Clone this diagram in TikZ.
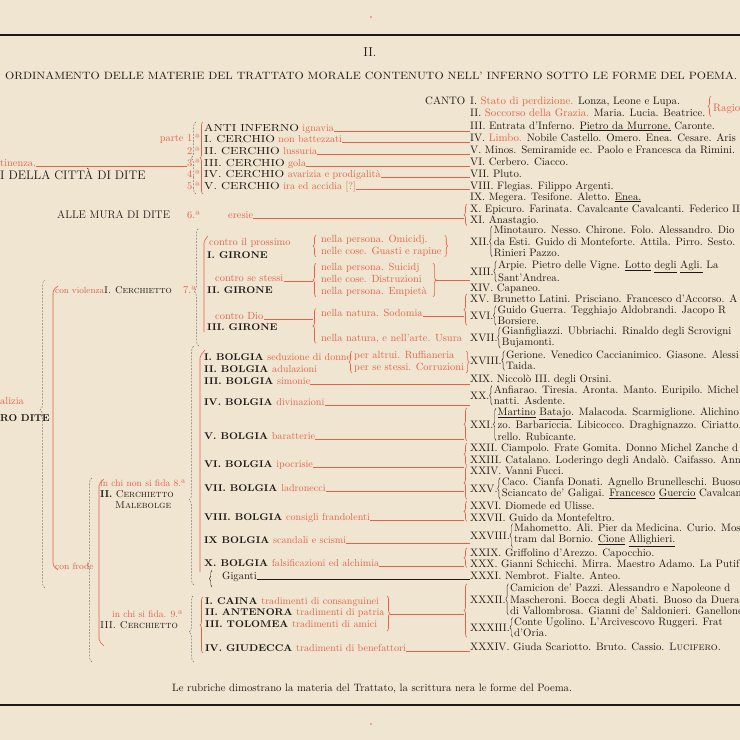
\documentclass[tikz,border=0pt]{standalone}
\usepackage{graphicx}
\usetikzlibrary{positioning,decorations.pathreplacing}

\definecolor{paper}{RGB}{240,229,208}
\definecolor{redink}{RGB}{226,98,72}
\definecolor{ink}{RGB}{30,25,24}
\newcommand{\rd}[1]{\textcolor{redink}{#1}}
\newcommand{\rs}[1]{\textcolor{redink}{\mdseries\fontsize{10.1}{11}\selectfont #1}}
\newcommand{\ccap}[1]{\scalebox{1.22}[1]{#1}}
\newcommand{\wcap}[1]{\scalebox{1.06}[1]{#1}}
\newcommand{\cfont}{\fontsize{10.8}{11.4}\selectfont}

\tikzset{
  every node/.style={inner sep=0pt, anchor=base west, text=ink},
  canto/.style={font=\cfont},
  ctext/.style={font=\cfont, align=left, anchor=west},
  circ/.style={font=\fontsize{10.2}{11}\selectfont},
  bolg/.style={font=\bfseries\fontsize{9.8}{11}\selectfont},
  rlab/.style={font=\fontsize{10.4}{11.8}\selectfont, text=redink},
  rline/.style={draw=redink, line width=0.6pt},
  kbrc/.style={draw=ink, line width=0.45pt, decorate, decoration={brace, amplitude=2.5pt}},
  rbrc/.style={draw=redink, line width=0.6pt, decorate, decoration={brace, amplitude=3pt}},
  dbrc/.style={draw=ink!60, line width=0.5pt, dash pattern=on 1.8pt off 1.4pt, decorate, decoration={brace, amplitude=5pt, aspect=#1}},
}

\begin{document}
\begin{tikzpicture}[x=1pt, y=-1pt]
\useasboundingbox (0,0) rectangle (740,740);
\clip (0,0) rectangle (740,740);
\fill[paper] (0,0) rectangle (740,740);

% rules and marks
\draw[ink, line width=1.4pt] (0,35) -- (740,35);
\draw[ink, line width=1.4pt] (0,705) -- (740,705);
\fill[redink] (371,17) circle[radius=0.9pt];
\fill[redink] (371,724) circle[radius=0.9pt];

% heading
\node[anchor=base, font=\fontsize{13}{14}\selectfont] (num) at (370,56) {II.};
\node (title) at (5,79) {\resizebox{732pt}{7.6pt}{ORDINAMENTO DELLE MATERIE DEL TRATTATO MORALE CONTENUTO NELL' INFERNO SOTTO LE FORME DEL POEMA.}};

% canti
\node[canto] (canto) at (425,104) {CANTO};
\node[canto] (c1) at (470,104) {I. \rd{Stato di perdizione.} Lonza, Leone e Lupa.};
\node[canto] (c2) at (470,116) {II. \rd{Soccorso della Grazia.} Maria. Lucia. Beatrice.};
\node[canto, text=redink] (rag) at (713,111) {Ragio};
\draw[rbrc] ([xshift=-2pt]rag.west |- c2.south) -- ([xshift=-2pt]rag.west |- c1.north);
\node[canto] (c3) at (470,129) {III. Entrata d'Inferno. \underline{Pietro da Murrone.} Caronte.};
\node[canto] (c4) at (470,141) {IV. \rd{Limbo.} Nobile Castello. Omero. Enea. Cesare. Aris};
\node[canto] (c5) at (470,153) {V. Minos. Semiramide ec. Paolo e Francesca da Rimini.};
\node[canto] (c6) at (470,165) {VI. Cerbero. Ciacco.};
\node[canto] (c7) at (470,177) {VII. Pluto.};
\node[canto] (c8) at (470,189) {VIII. Flegias. Filippo Argenti.};
\node[canto] (c9) at (470,200) {IX. Megera. Tesifone. Aletto. \underline{Enea.}};
\node[canto] (c10) at (470,212) {X. Epicuro. Farinata. Cavalcante Cavalcanti. Federico II.};
\node[canto] (c11) at (470,223) {XI. Anastagio.};
\node[canto] (c12) at (470,245) {XII.};
\node[ctext, right=4pt of c12] (t12) {Minotauro. Nesso. Chirone. Folo. Alessandro. Dio\\da Esti. Guido di Monteforte. Attila. Pirro. Sesto.\\Rinieri Pazzo.};
\node[canto] (c13) at (470,275) {XIII.};
\node[ctext, right=4pt of c13] (t13) {Arpie. Pietro delle Vigne. \underline{Lotto} \underline{degli} \underline{Agli.} La\\Sant'Andrea.};
\node[canto] (c14) at (470,291) {XIV. Capaneo.};
\node[canto] (c15) at (470,302) {XV. Brunetto Latini. Prisciano. Francesco d'Accorso. A};
\node[canto] (c16) at (470,319) {XVI.};
\node[ctext, right=4pt of c16] (t16) {Guido Guerra. Tegghiajo Aldobrandi. Jacopo R\\Borsiere.};
\node[canto] (c17) at (470,341) {XVII.};
\node[ctext, right=4pt of c17] (t17) {Gianfigliazzi. Ubbriachi. Rinaldo degli Scrovigni\\Bujamonti.};
\node[canto] (c18) at (470,364) {XVIII.};
\node[ctext, right=4pt of c18] (t18) {Gerione. Venedico Caccianimico. Giasone. Alessi\\Taida.};
\node[canto] (c19) at (470,382) {XIX. Niccolò III. degli Orsini.};
\node[canto] (c20) at (470,399) {XX.};
\node[ctext, right=4pt of c20] (t20) {Anfiarao. Tiresia. Aronta. Manto. Euripilo. Michel\\natti. Asdente.};
\node[canto] (c21) at (470,428) {XXI.};
\node[ctext, right=4pt of c21] (t21) {\underline{Martino} \underline{Batajo}. Malacoda. Scarmiglione. Alichino.\\zo. Barbariccia. Libicocco. Draghignazzo. Ciriatto.\\rello. Rubicante.};
\node[canto] (c22) at (470,451) {XXII. Ciampolo. Frate Gomita. Donno Michel Zanche d};
\node[canto] (c23) at (470,463) {XXIII. Catalano. Loderingo degli Andalò. Caifasso. Ann};
\node[canto] (c24) at (470,474) {XXIV. Vanni Fucci.};
\node[canto] (c25) at (470,492) {XXV.};
\node[ctext, right=4pt of c25] (t25) {Caco. Cianfa Donati. Agnello Brunelleschi. Buoso\\Sciancato de' Galigai. \underline{Francesco} \underline{Guercio} Cavalcan};
\node[canto] (c26) at (470,509) {XXVI. Diomede ed Ulisse.};
\node[canto] (c27) at (470,521) {XXVII. Guido da Montefeltro.};
\node[canto] (c28) at (470,539) {XXVIII.};
\node[ctext, right=4pt of c28] (t28) {Mahometto. Alì. Pier da Medicina. Curio. Mosc\\tram dal Bornio. \underline{Cione} \underline{Allighieri.}};
\node[canto] (c29) at (470,556) {XXIX. Griffolino d'Arezzo. Capocchio.};
\node[canto] (c30) at (470,567) {XXX. Gianni Schicchi. Mirra. Maestro Adamo. La Putif};
\node[canto] (c31) at (470,579) {XXXI. Nembrot. Fialte. Anteo.};
\node[canto] (c32) at (470,603) {XXXII.};
\node[ctext, right=4pt of c32] (t32) {Camicion de' Pazzi. Alessandro e Napoleone d\\Mascheroni. Bocca degli Abati. Buoso da Duera\\di Vallombrosa. Gianni de' Saldonieri. Ganellone};
\node[canto] (c33) at (470,631) {XXXIII.};
\node[ctext, right=4pt of c33] (t33) {Conte Ugolino. L'Arcivescovo Ruggeri. Frat\\d'Oria.};
\node[canto] (c34) at (470,650) {XXXIV. Giuda Scariotto. Bruto. Cassio. \textsc{Lucifero}.};

% inner braces of the canti
\foreach \t in {t12,t13,t16,t17,t18,t20,t21,t25,t28,t32,t33}
  \draw[kbrc] ([xshift=-1.5pt]\t.south west) -- ([xshift=-1.5pt]\t.north west);

% group braces before the canti
\coordinate (tx) at ([xshift=-6pt]c10.west);
\draw[rbrc] ([xshift=-3pt]c11.south west) -- ([xshift=-3pt]c10.north west);
\draw[rbrc] ([xshift=-3pt]c15.west |- t16.south) -- ([xshift=-3pt]c15.north west);
\draw[rbrc] ([xshift=-3pt]c21.west |- t21.south) -- ([xshift=-3pt]c21.west |- t21.north);
\draw[rbrc] ([xshift=-3pt]c23.south west) -- ([xshift=-3pt]c22.north west);
\draw[rbrc] ([xshift=-3pt]c25.west |- t25.south) -- ([xshift=-3pt]c24.north west);
\draw[rbrc] ([xshift=-3pt]c27.south west) -- ([xshift=-3pt]c26.north west);
\draw[rbrc] ([xshift=-3pt]c30.south west) -- ([xshift=-3pt]c29.north west);
\draw[rbrc] ([xshift=-3pt]c33.west |- t33.south) -- ([xshift=-3pt]c32.west |- t32.north);

% cerchi fuori della citta
\node[circ] (k0) at (204,131) {\ccap{ANTI INFERNO} \rs{ignavia}};
\node[circ] (k1) at (204,142) {\ccap{I. CERCHIO} \rs{non battezzati}};
\node[circ] (k2) at (204,154) {\ccap{II. CERCHIO} \rs{lussuria}};
\node[circ] (k3) at (204,166) {\ccap{III. CERCHIO} \rs{gola}};
\node[circ] (k4) at (204,177) {\ccap{IV. CERCHIO} \rs{avarizia e prodigalità}};
\node[circ] (k5) at (204,189) {\ccap{V. CERCHIO} \rs{ira ed accidia [?]}};
\node[rlab, anchor=base east] (n1) at (200,141) {parte 1.ª};
\node[rlab, anchor=base east] (n2) at (200,154) {2.ª};
\node[rlab, anchor=base east] (n3) at (200,166) {3.ª};
\node[rlab, anchor=base east] (n4) at (200,177) {4.ª};
\node[rlab, anchor=base east] (n5) at (200,189) {5.ª};
\draw[rbrc] (203,194) -- (203,122);
\draw[dbrc=0.5] (196,194) -- (196,122);
\node[rlab] (incont) at (0,166) {tinenza.};
\node[font=\fontsize{12.4}{12}\selectfont] (fuori) at (0,179) {I DELLA CITTÀ DI DITE};
\draw[rline] (incont.base east) -- (n3.base west);
\draw[rline] (k0.base east) -- (k0.base east -| c3.west);
\draw[rline] (k1.base east) -- (k1.base east -| c4.west);
\draw[rline] (k2.base east) -- (k2.base east -| c5.west);
\draw[rline] (k3.base east) -- (k3.base east -| c6.west);
\draw[rline] (k4.base east) -- (k4.base east -| c7.west);
\draw[rline] (k5.base east) -- (k5.base east -| c8.west);

% mura
\node[font=\fontsize{11}{12}\selectfont] (mura) at (57,218) {ALLE MURA DI DITE};
\node[rlab] (n6) at (187,218) {6.ª};
\node[rlab] (eres) at (228,218) {eresie};
\draw[rline] (eres.base east) -- (eres.base east -| tx);

% I. cerchietto: violenza
\node[rlab, font=\fontsize{8.9}{11}\selectfont] (viol) at (55,293) {con violenza.};
\node[font=\fontsize{9.8}{11}\selectfont] (ce1) at (104,293) {\textsc{I. Cerchietto}};
\node[rlab] (n7) at (183,293) {7.ª};
\draw[dbrc=0.466] (199,346) -- (199,228);
\draw[rline, rounded corners=2pt] (208,236) -- (204,241) -- (204,332);
\node[rlab] (prox) at (209,245) {contro il prossimo};
\node[bolg] (g1) at (207,258) {\wcap{I. GIRONE}};
\node[rlab] (sest) at (215,281) {contro se stessi};
\node[bolg] (g2) at (207,293) {\wcap{II. GIRONE}};
\node[rlab] (dio) at (215,319) {contro Dio};
\node[bolg] (g3) at (207,330) {\wcap{III. GIRONE}};
\node[rlab, anchor=west, align=left] (sub1) at (321,246) {nella persona. Omicidj.\\nelle cose. Guasti e rapine};
\node[rlab, anchor=west, align=left] (sub2) at (321,280) {nella persona. Suicidj\\nelle cose. Distruzioni\\nella persona. Empietà};
\node[rlab] (sod) at (321,316) {nella natura. Sodomia};
\node[rlab] (usu) at (321,341) {nella natura, e nell'arte. Usura};
\coordinate (bx) at (313,0);
\draw[rbrc] ([xshift=-5pt]sub1.south west) -- ([xshift=-5pt]sub1.north west);
\draw[rbrc] ([xshift=3pt]sub1.north east) -- ([xshift=3pt]sub1.south east);
\draw[rbrc] ([xshift=-5pt]sub2.south west) -- ([xshift=-5pt]sub2.north west);
\draw[rbrc] ([xshift=6pt]sub2.north east) -- ([xshift=6pt]sub2.south east);
\draw[rbrc] ([xshift=-5pt]usu.south west) -- ([xshift=-5pt]sod.north west);
\draw[rline] (sest.base east) -- (sest.base east -| bx);
\draw[rline] (dio.base east) -- (dio.base east -| bx);
\coordinate (sub2tip) at ([xshift=9pt]sub2.east);
\draw[rline] (sub2tip) -- (sub2tip -| c13.west);
\draw[rline] (sod.base east) -- (sod.base east -| tx);

% malizia
\node[rlab] (mal) at (0,404) {alizia};
\node[font=\bfseries\fontsize{10}{12}\selectfont] (dentro) at (0,421) {RO DITE};
\draw[dbrc=0.578] (45,588) -- (45,280);
\draw[rline, rounded corners=3pt] (58,286) -- (53,290) -- (53,566) -- (58,570);
\node[rlab, font=\fontsize{9.2}{11}\selectfont] (frode) at (55,569) {con frode};

% II. cerchietto: malebolge
\node[rlab, font=\fontsize{9.6}{11}\selectfont] (nonfida) at (100,486) {in chi non si fida 8.ª};
\node[font=\fontsize{10}{11}\selectfont] (ce2) at (100,497) {\textbf{II.} \textsc{Cerchietto}};
\node[font=\fontsize{10}{11}\selectfont] (male) at (115,508) {\textsc{Malebolge}};
\draw[dbrc=0.527] (92,662) -- (92,478);
\draw[rline, rounded corners=2pt] (104,479) -- (99,484) -- (99,641) -- (104,646);
\draw[dbrc=0.356] (194,585) -- (194,346);
\draw[rline, rounded corners=2pt] (205,350) -- (200,356) -- (200,572);
\node[bolg] (b1) at (204,360) {\wcap{I. BOLGIA} \rs{seduzione di donne}};
\node[bolg] (b2) at (204,372) {\wcap{II. BOLGIA} \rs{adulazioni}};
\node[bolg] (b3) at (204,384) {\wcap{III. BOLGIA} \rs{simonie}};
\node[bolg] (b4) at (204,405) {\wcap{IV. BOLGIA} \rs{divinazioni}};
\node[bolg] (b5) at (204,439) {\wcap{V. BOLGIA} \rs{baratterie}};
\node[bolg] (b6) at (204,467) {\wcap{VI. BOLGIA} \rs{ipocrisie}};
\node[bolg] (b7) at (204,491) {\wcap{VII. BOLGIA} \rs{ladronecci}};
\node[bolg] (b8) at (204,520) {\wcap{VIII. BOLGIA} \rs{consigli frandolenti}};
\node[bolg] (b9) at (204,543) {\wcap{IX BOLGIA} \rs{scandali e scismi}};
\node[bolg] (b10) at (204,566) {\wcap{X. BOLGIA} \rs{falsificazioni ed alchimia}};
\node[rlab, anchor=west, align=left] (ruff) at (354,362) {per altrui. Ruffianeria\\per se stessi. Corruzioni};
\draw[rbrc] ([xshift=-2pt]ruff.south west) -- ([xshift=-2pt]ruff.north west);
\draw[rbrc] ([xshift=2pt]ruff.north east) -- ([xshift=2pt]ruff.south east);
\draw[rline] (b3.base east) -- (b3.base east -| c19.west);
\draw[rline] (b4.base east) -- (b4.base east -| c20.west);
\draw[rline] (b5.base east) -- (b5.base east -| tx);
\draw[rline] (b6.base east) -- (b6.base east -| tx);
\draw[rline] (b7.base east) -- (b7.base east -| tx);
\draw[rline] (b8.base east) -- (b8.base east -| tx);
\draw[rline] (b9.base east) -- (b9.base east -| c28.west);
\draw[rline] (b10.base east) -- (b10.base east -| tx);
\node[font=\fontsize{10.6}{11}\selectfont] (gig) at (222,579) {Giganti};
\draw[kbrc] (212,587) -- (212,570);
\draw[ink, line width=0.5pt] (gig.base east) -- (gig.base east -| c31.west);

% III. cerchietto: tradimenti
\node[rlab, font=\fontsize{9.6}{11}\selectfont] (sifida) at (112,617) {in chi si fida. 9.ª};
\node[font=\fontsize{10}{11}\selectfont] (ce3) at (100,628) {\textsc{III. Cerchietto}};
\draw[dbrc=0.448] (194,662) -- (194,595);
\draw[rbrc] (203,653) -- (203,597);
\node[bolg] (q1) at (205,604) {\wcap{I. CAINA} \rs{tradimenti di consanguinei}};
\node[bolg] (q2) at (205,615) {\wcap{II. ANTENORA} \rs{tradimenti di patria}};
\node[bolg] (q3) at (205,627) {\wcap{III. TOLOMEA} \rs{tradimenti di amici}};
\node[bolg] (q4) at (205,651) {\wcap{IV. GIUDECCA} \rs{tradimenti di benefattori}};
\draw[rbrc] (387,596) -- (387,631);
\coordinate (qtip) at (390,614);
\draw[rline] (qtip) -- (qtip -| tx);
\draw[rline] (q4.base east) -- (q4.base east -| c34.west);

% footer
\node[font=\fontsize{10.7}{11}\selectfont] (foot) at (172,691) {Le rubriche dimostrano la materia del Trattato, la scrittura nera le forme del Poema.};
\end{tikzpicture}
\end{document}
